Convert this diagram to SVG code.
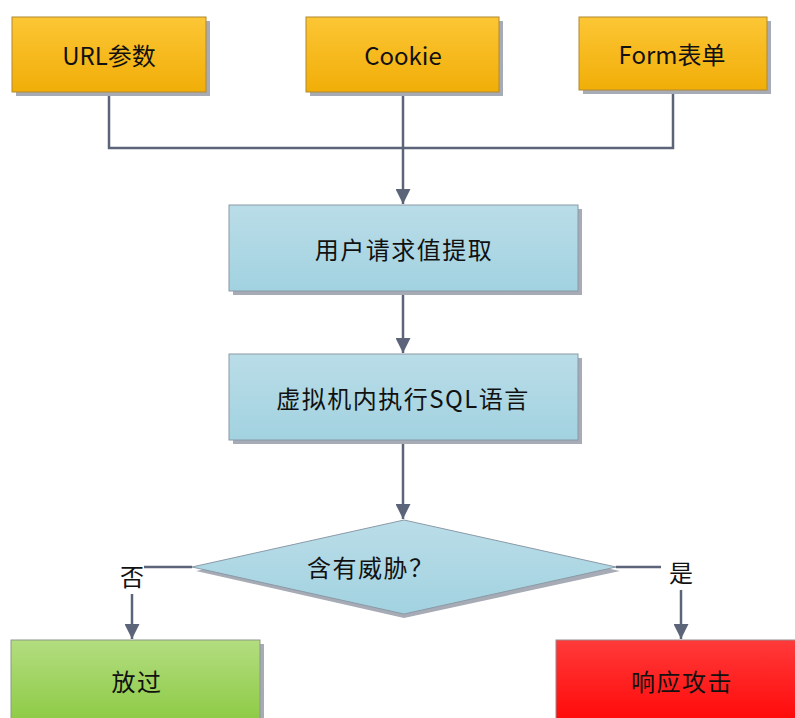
<svg xmlns="http://www.w3.org/2000/svg" width="795" height="718" viewBox="0 0 795 718">
<style>
text{font-family:"Noto Sans CJK SC","Noto Sans",sans-serif;font-size:24px;fill:#111;text-anchor:middle;dominant-baseline:central}
.cj{letter-spacing:1.5px}
.sh{fill:#A7ABB6}
.edge{fill:none;stroke:#5B6478;stroke-width:2.5}
.o{fill:url(#go);stroke:#B08A2E;stroke-width:1}
.b{fill:url(#gb);stroke:#8A9AA6;stroke-width:1}
.g{fill:url(#gg);stroke:#8A9A86;stroke-width:1}
.r{fill:url(#gr);stroke:#9A8A8A;stroke-width:1}
</style>
<defs>
<linearGradient id="go" x1="0" y1="0" x2="0" y2="1"><stop offset="0" stop-color="#FCC635"/><stop offset="1" stop-color="#F1AE08"/></linearGradient>
<linearGradient id="gb" x1="0" y1="0" x2="0" y2="1"><stop offset="0" stop-color="#BADDE8"/><stop offset="1" stop-color="#A2D2E0"/></linearGradient>
<linearGradient id="gg" x1="0" y1="0" x2="0" y2="1"><stop offset="0" stop-color="#B3DD80"/><stop offset="1" stop-color="#8ECB46"/></linearGradient>
<linearGradient id="gr" x1="0" y1="0" x2="0" y2="1"><stop offset="0" stop-color="#FF3A3A"/><stop offset="1" stop-color="#FF0A0A"/></linearGradient>
<marker id="ar" viewBox="0 0 10 10" refX="10" refY="5" markerWidth="6" markerHeight="6" markerUnits="strokeWidth" orient="auto"><path d="M0,0 L10,5 L0,10 Z" fill="#5B6478"/></marker>
</defs>
<g id="connectors">
<path class="edge" d="M109,92 V148 H673 V90"/>
<path class="edge" d="M403,92 V204" marker-end="url(#ar)"/>
<path class="edge" d="M403,291 V353" marker-end="url(#ar)"/>
<path class="edge" d="M403,440 V519" marker-end="url(#ar)"/>
<path class="edge" d="M192,567 H143"/>
<path class="edge" d="M132,594 V639" marker-end="url(#ar)"/>
<path class="edge" d="M616,567 H661"/>
<path class="edge" d="M681,590 V639" marker-end="url(#ar)"/>
<g id="label-no"><rect x="120" y="558" width="24" height="36" fill="#fff"/><text x="132" y="575">否</text></g>
<g id="label-yes"><rect x="669" y="554" width="24" height="36" fill="#fff"/><text x="681" y="571">是</text></g>
</g>
<g id="url"><rect class="sh" x="16" y="21" width="194" height="75"/><rect class="o" x="12" y="17" width="194" height="75"/><text x="109" y="54">URL参数</text></g>
<g id="cookie"><rect class="sh" x="310" y="21" width="193" height="75"/><rect class="o" x="306" y="17" width="193" height="75"/><text x="403" y="54">Cookie</text></g>
<g id="form"><rect class="sh" x="583" y="21" width="188" height="73"/><rect class="o" x="579" y="17" width="188" height="73"/><text x="672" y="53">Form表单</text></g>
<g id="extract"><rect class="sh" x="233" y="209" width="349" height="86"/><rect class="b" x="229" y="205" width="349" height="86"/><text class="cj" x="404" y="248">用户请求值提取</text></g>
<g id="exec"><rect class="sh" x="233" y="358" width="349" height="86"/><rect class="b" x="229" y="354" width="349" height="86"/><text class="cj" x="403" y="397">虚拟机内执行SQL语言</text></g>
<g id="threat"><polygon class="sh" points="404,524 620,571 404,618 196,571"/><polygon class="b" points="404,520 616,567 404,614 192,567"/><text class="cj" x="307" y="566" style="text-anchor:start">含有威胁？</text></g>
<g id="pass"><rect class="sh" x="15" y="644" width="249" height="80"/><rect class="g" x="11" y="640" width="249" height="80"/><text class="cj" x="137" y="680">放过</text></g>
<g id="respond"><rect class="sh" x="560" y="644" width="240" height="80"/><rect class="r" x="556" y="640" width="240" height="80"/><text class="cj" x="682" y="680">响应攻击</text></g>
</svg>
